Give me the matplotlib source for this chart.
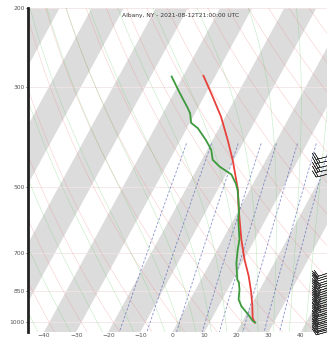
import numpy as np
import matplotlib
matplotlib.use('Agg')
import matplotlib.pyplot as plt
import matplotlib.transforms as mtransforms

#---------------------------- data ----------------------------#
title = 'Albany, NY - 2021-08-12T21:00:00 UTC'

# temperature profile (red), hPa / degC
temp_p = [1000, 977, 920, 859, 789, 725, 654, 591, 561, 507, 482, 435, 393, 349, 315, 283]
temp_c = [24.0, 22.6, 20.5, 17.9, 14.3, 10.2, 5.8, 1.9, -0.1, -3.7, -5.9, -10.4, -15.3, -21.3, -27.3, -33.7]

# dewpoint profile (green)
dewp_p = [1000, 994, 960, 920, 889, 867, 845, 815, 803, 737, 689, 654, 591, 561, 533, 507,
          491, 469, 450, 435, 413, 393, 370, 360, 343, 334, 307, 284]
dewp_c = [24.2, 23.3, 20.6, 17.1, 15.1, 14.4, 13.7, 12.3, 11.3, 8.2, 6.4, 5.2, 1.5, 0.0, -1.9, -3.8,
          -5.4, -8.3, -13.4, -16.6, -18.8, -22.1, -26.6, -29.6, -31.5, -33.1, -38.6, -43.5]

# wind barbs at the right edge (knots), only the ones reaching into the frame
wind_p = [1040, 1030, 1020, 1010, 1000, 990, 980, 970, 960, 950, 940, 930, 920, 910, 900, 890,
          880, 870, 860, 850, 840, 830, 820, 810, 800, 790, 780, 770,
          465, 455, 445, 435, 425]
wind_u = [14, 15, 16, 17, 18, 18, 19, 20, 20, 21, 21, 22, 22, 23, 23, 24,
          24, 25, 25, 25, 24, 24, 23, 22, 21, 20, 19, 18,
          20, 22, 24, 22, 20]
wind_v = [4, 4, 5, 5, 5, 5, 6, 6, 6, 6, 7, 7, 7, 7, 8, 8,
          8, 8, 8, 8, 8, 8, 7, 7, 7, 6, 6, 6,
          5, 5, 6, 5, 5]

p_ticks = [1000, 850, 700, 500, 300, 200]
t_ticks = list(range(-40, 50, 10))
mix_ratios = [0.001, 0.002, 0.004, 0.007, 0.01, 0.016, 0.024, 0.032]
dry_t0 = list(range(-40, 161, 10))
moist_t0 = list(range(-45, 0, 10)) + list(range(0, 51, 5))


def moist_profile(t0, pres):
    # simple euler integration of the saturated lapse rate, pres starts at 1000
    Rd, Cp, Lv, eps = 287.04, 1005.7, 2.501e6, 0.622
    T = t0 + 273.15
    out = [T]
    for p1, p2 in zip(pres[:-1], pres[1:]):
        tc = T - 273.15
        es = 6.112 * np.exp(17.67 * tc / (tc + 243.5))
        rs = eps * es / (p1 - es)
        dtdp = (Rd * T + Lv * rs) / (p1 * (Cp + Lv ** 2 * rs * eps / (Rd * T ** 2)))
        T = T + dtdp * (p2 - p1)
        out.append(T)
    return np.array(out) - 273.15


fig = plt.figure(figsize=(3.27, 3.39), dpi=100)
ax = fig.add_axes([0.0856, 0.0206, 0.9327, 0.9558])
ax.set_yscale('log')
ax.set_xlim(-45, 50)
ax.set_ylim(1050, 200)
ax.set_autoscale_on(False)

# skewed data transform (isotherms leaning 30 deg)
skew = ax.transScale + ax.transLimits + mtransforms.Affine2D().skew_deg(30, 0) + ax.transAxes
pbot, ptop = ax.get_ylim()

#---------------------------- background ----------------------------#
for t0 in range(-100, 50, 20):
    ax.fill([t0, t0 + 10, t0 + 10, t0], [pbot, pbot, ptop, ptop], transform=skew,
            color='#dcdcdc', lw=0, zorder=0)

for p in p_ticks:
    ax.axhline(p, color='#f2e4e4', lw=0.6, zorder=1)

pres = np.linspace(pbot, ptop, 80)
for t0 in dry_t0:
    t = (t0 + 273.15) * (pres / 1000.) ** 0.2857 - 273.15
    ax.plot(t, pres, transform=skew, color='#f08080', lw=0.4, alpha=0.4, zorder=1)

p_up = np.linspace(1000, ptop, 300)
p_dn = np.linspace(1000, pbot, 20)
for t0 in moist_t0:
    t = np.concatenate([moist_profile(t0, p_dn)[::-1], moist_profile(t0, p_up)[1:]])
    pp = np.concatenate([p_dn[::-1], p_up[1:]])
    ax.plot(t, pp, transform=skew, color='#66cc66', lw=0.4, alpha=0.4, zorder=1)

p_mix = np.linspace(400, pbot, 40)
for w in mix_ratios:
    e = p_mix * w / (0.622 + w)
    lnr = np.log(e / 6.112)
    td = 243.5 * lnr / (17.67 - lnr)
    ax.plot(td, p_mix, transform=skew, color='#5565b8', lw=0.6, ls=(0, (3, 2)),
            alpha=0.7, zorder=1)

#---------------------------- soundings ----------------------------#
ax.plot(temp_c, temp_p, transform=skew, color='#e8413c', lw=1.3, zorder=3)
ax.plot(dewp_c, dewp_p, transform=skew, color='#3c9a3c', lw=1.3, zorder=3)

barb_tr = mtransforms.blended_transform_factory(ax.transAxes, ax.transData)
ax.barbs(np.ones(len(wind_p)), wind_p, wind_u, wind_v, transform=barb_tr,
         length=5, lw=0.4, color='#333333', clip_on=False, zorder=4)

#---------------------------- axes look ----------------------------#
ax.set_yticks(p_ticks)
ax.set_yticklabels([str(p) for p in p_ticks])
ax.yaxis.set_minor_locator(matplotlib.ticker.NullLocator())
ax.set_xticks(t_ticks)
ax.tick_params(axis='both', labelsize=4.3, labelcolor='#555555')
ax.tick_params(axis='y', length=1.5, width=0.5, pad=1)
ax.tick_params(axis='x', length=0, pad=1)
for s in ['top', 'right', 'bottom']:
    ax.spines[s].set_visible(False)
ax.spines['left'].set_linewidth(2.0)
ax.spines['left'].set_color('#222222')

ax.text(0.5, 0.985, title, transform=ax.transAxes, ha='center', va='top',
        fontsize=4.3, color='#333333', zorder=5)

fig.savefig('out.png', dpi=100)
